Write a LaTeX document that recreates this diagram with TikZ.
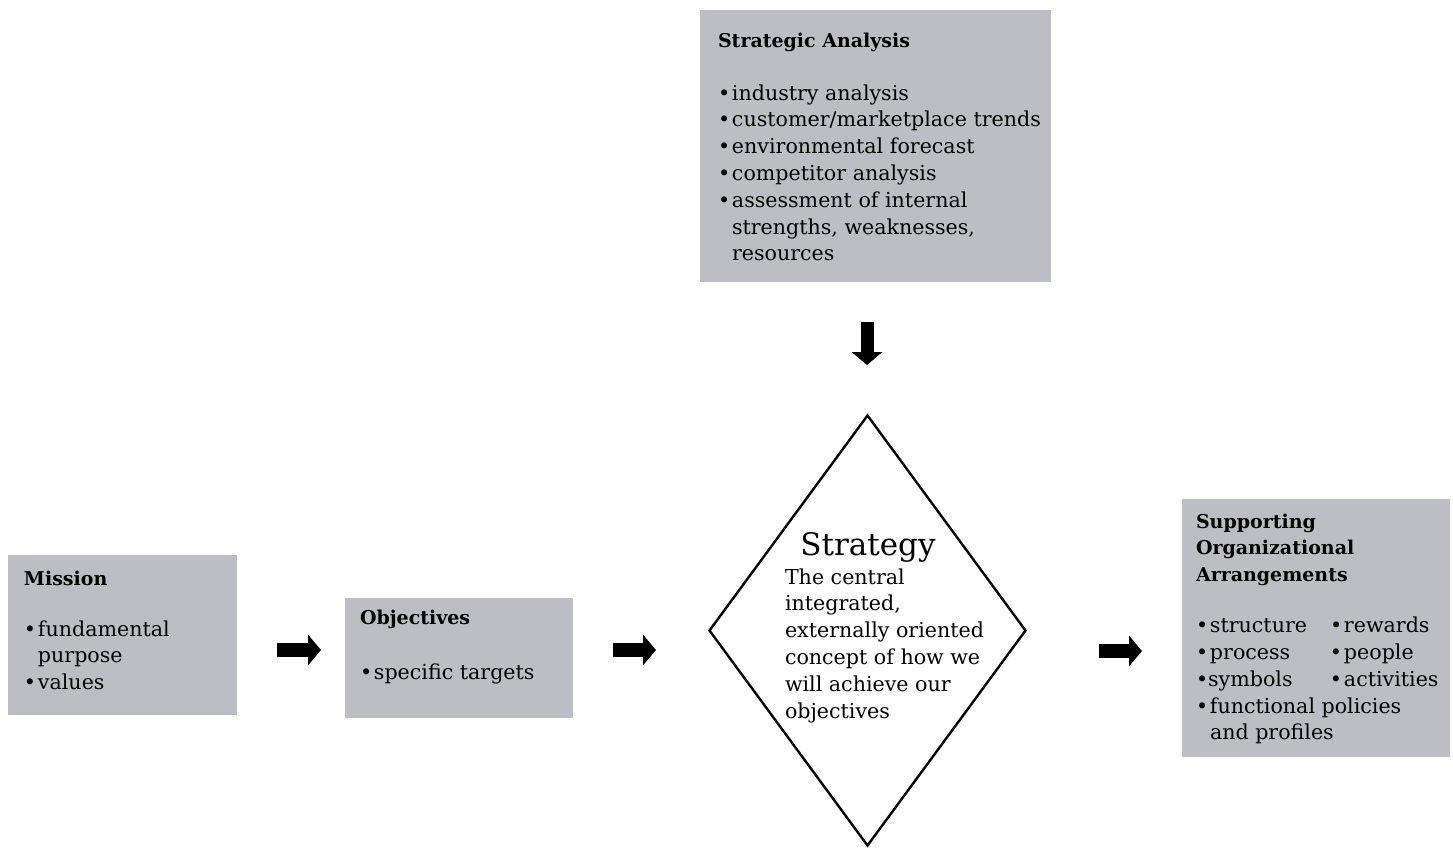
\documentclass[tikz,border=0pt]{standalone}
\usepackage{fontspec}
\setmainfont{DejaVu Serif}
\usetikzlibrary{arrows.meta,shapes.geometric,fit}
\definecolor{boxgray}{RGB}{188,190,196}
\newlength\bw \setlength\bw{7pt}
\newcommand\bi{\makebox[\bw][l]{•}}
\newcommand\ii{\hspace*{\bw}}
\newcommand\bodyfont{\fontsize{10.3pt}{13.4pt}\selectfont}
\newcommand\ttlfont{\fontsize{9.5pt}{13.4pt}\selectfont\bfseries}
\begin{document}
\begin{tikzpicture}[x=0.5pt,y=-0.5pt,
  box/.style={fill=boxgray, draw=none, inner sep=0pt, outer sep=0pt},
  txt/.style={anchor=base west, inner sep=0pt, outer sep=0pt, font=\bodyfont},
  blockarrow/.style={line width=7pt, -{Triangle[length=6.5pt,width=15pt]}},
  downarrow/.style={line width=6.5pt, -{Triangle[length=6.5pt,width=15pt]}}]
\fill[white] (0,0) rectangle (1453,848);
\useasboundingbox (0,0) rectangle (1453,848);

% boxes
\node[box, fit={(700,10) (1051,282)}] (sa) {};
\node[box, fit={(8,555) (237,715)}] (mission) {};
\node[box, fit={(345,598) (573,718)}] (objectives) {};
\node[box, fit={(1182,499) (1450,757)}] (support) {};
\node[draw, diamond, line width=1.2pt, minimum width=158.5pt, minimum height=215.5pt, inner sep=0pt] (strategy) at (867.5,630.5) {};

% texts
\node[txt] (satext) at (718,47) {\parbox[t]{200pt}{{\ttlfont Strategic Analysis}\\[13.1pt]
\bi industry analysis\\
\bi customer/marketplace trends\\
\bi environmental forecast\\
\bi competitor analysis\\
\bi assessment of internal\\
\ii strengths, weaknesses,\\
\ii resources}};

\node[txt] (missiontext) at (24,585) {\parbox[t]{120pt}{{\ttlfont Mission}\\[12.1pt]
\bi fundamental\\
\ii purpose\\
\bi values}};

\node[txt] (objtext) at (360,624) {\parbox[t]{120pt}{{\ttlfont Objectives}\\[14.1pt]
\bi specific targets}};

\node[txt] (suptext) at (1196,528) {\parbox[t]{140pt}{{\ttlfont Supporting}\\
{\ttlfont Organizational}\\
{\ttlfont Arrangements}\\[12.1pt]
\makebox[67pt][l]{\bi structure}\bi rewards\\
\makebox[67pt][l]{\bi process}\bi people\\
\makebox[67pt][l]{•symbols}\bi activities\\
\bi functional policies\\
\ii and profiles}};

\node[anchor=base, inner sep=0pt, font=\fontsize{15.5pt}{18pt}\selectfont] (strtitle) at (868,555) {Strategy};
\node[txt] (strtext) at (785,584) {\parbox[t]{120pt}{The central\\
integrated,\\
externally oriented\\
concept of how we\\
will achieve our\\
objectives}};

% arrows
\coordinate (a1s) at (277,650); \coordinate (a1e) at (321,650);
\coordinate (a2s) at (613,650); \coordinate (a2e) at (656,650);
\coordinate (a3s) at (1099,651); \coordinate (a3e) at (1142,651);
\coordinate (a4s) at (867,322); \coordinate (a4e) at (867,365);
\draw[blockarrow] (a1s) -- (a1e);
\draw[blockarrow] (a2s) -- (a2e);
\draw[blockarrow] (a3s) -- (a3e);
\draw[downarrow] (a4s) -- (a4e);
\end{tikzpicture}
\end{document}
